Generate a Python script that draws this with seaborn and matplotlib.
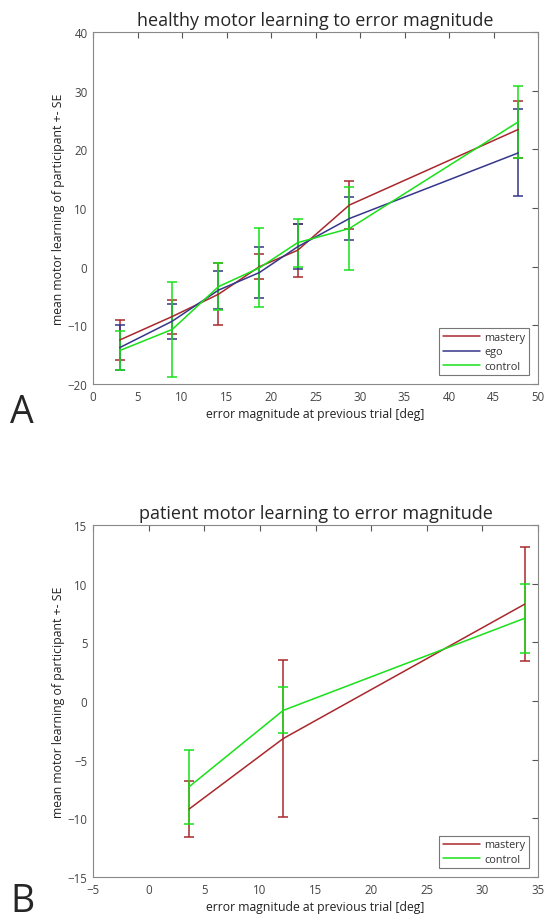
import numpy as np
import pandas as pd
import seaborn as sns
import matplotlib.pyplot as plt

# healthy participants (panel A)
healthy_x = [3.0, 8.9, 14.1, 18.7, 23.0, 28.8, 47.8]
healthy_mastery = [-12.5, -8.5, -4.7, 0.0, 2.8, 10.5, 23.4]
healthy_mastery_se = [3.45, 2.9, 5.3, 2.1, 4.5, 4.1, 4.8]
healthy_ego = [-13.8, -9.3, -4.0, -1.0, 3.4, 8.2, 19.4]
healthy_ego_se = [3.8, 3.0, 3.25, 4.4, 3.85, 3.7, 7.4]
healthy_control = [-14.3, -10.7, -3.4, -0.2, 4.1, 6.5, 24.7]
healthy_control_se = [3.3, 8.05, 4.0, 6.75, 4.1, 7.0, 6.15]

# patients (panel B)
patient_x = [3.65, 12.1, 33.8]
patient_mastery = [-9.2, -3.2, 8.25]
patient_mastery_se = [2.35, 6.7, 4.86]
patient_control = [-7.3, -0.8, 7.05]
patient_control_se = [3.15, 1.96, 2.95]

colors = {"mastery": "#a8282c", "ego": "#36368a", "control": "#19e019"}
font = ["Open Sans", "DejaVu Sans"]


def make_frame(x, groups):
    rows = []
    for name, (mean, se) in groups.items():
        for xi, m, s in zip(x, mean, se):
            rows.append({"x": xi, "y": m, "se": s, "group": name})
    return pd.DataFrame(rows)


def draw_panel(ax, df, title, xlim, ylim, xticks, yticks):
    names = list(df["group"].unique())
    for name in names:
        sub = df[df["group"] == name]
        ax.errorbar(sub["x"], sub["y"], yerr=sub["se"], fmt="none",
                    ecolor=colors[name], elinewidth=1.1, capsize=3.5,
                    capthick=1.1, zorder=2)
    sns.lineplot(data=df, x="x", y="y", hue="group", hue_order=names,
                 palette=colors, ax=ax, linewidth=1.1, sort=False,
                 estimator=None, zorder=3)
    ax.set_xlim(*xlim)
    ax.set_ylim(*ylim)
    ax.set_xticks(xticks)
    ax.set_yticks(yticks)
    ax.tick_params(direction="in", length=4, width=0.8, top=True, right=True,
                   labelsize=8.3, colors="#555555", labelcolor="#444444", pad=4)
    for sp in ax.spines.values():
        sp.set_color("#888888")
        sp.set_linewidth(0.8)
    ax.set_title(title, fontsize=13, family=font, pad=5)
    ax.set_xlabel("error magnitude at previous trial [deg]", fontsize=8.8,
                  family=font, color="#222222", labelpad=3)
    ax.set_ylabel("mean motor learning of participant +- SE", fontsize=8.8,
                  family=font, color="#222222", labelpad=2)
    for lab in ax.get_xticklabels() + ax.get_yticklabels():
        lab.set_family(font)
    leg = ax.legend(loc="lower right", frameon=True,
                    fancybox=False, edgecolor="#555555", handlelength=3.4,
                    borderpad=0.35, labelspacing=0.3, handletextpad=0.4,
                    borderaxespad=0.8, prop={"family": font, "size": 7.8})
    leg.get_frame().set_linewidth(0.8)
    for t in leg.get_texts():
        t.set_color("#333333")


sns.set_style("white")
plt.rcParams["font.family"] = font

fig = plt.figure(figsize=(5.46, 9.2), dpi=100)
ax1 = fig.add_axes([93 / 546, 1 - 385 / 920, 445 / 546, 352 / 920])
ax2 = fig.add_axes([93 / 546, 1 - 878 / 920, 445 / 546, 352 / 920])

healthy = make_frame(healthy_x, {
    "mastery": (healthy_mastery, healthy_mastery_se),
    "ego": (healthy_ego, healthy_ego_se),
    "control": (healthy_control, healthy_control_se),
})
patient = make_frame(patient_x, {
    "mastery": (patient_mastery, patient_mastery_se),
    "control": (patient_control, patient_control_se),
})

draw_panel(ax1, healthy, "healthy motor learning to error magnitude",
           (0, 50), (-20, 40), range(0, 51, 5), range(-20, 41, 10))
draw_panel(ax2, patient, "patient motor learning to error magnitude",
           (-5, 35), (-15, 15), range(-5, 36, 5), range(-15, 16, 5))

fig.text(10 / 546, 1 - 423 / 920, "A", fontsize=27, family=font)
fig.text(10 / 546, 1 - 912 / 920, "B", fontsize=27, family=font)

fig.savefig("out.png", dpi=100)
